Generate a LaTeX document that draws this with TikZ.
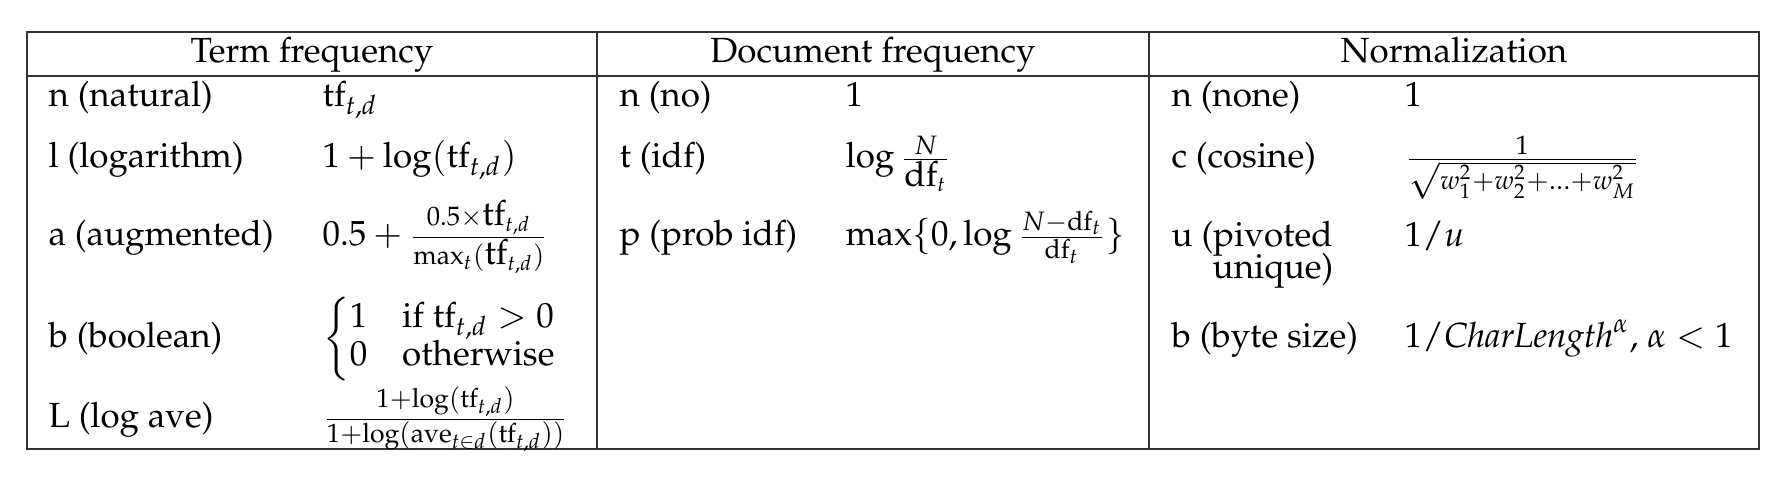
\documentclass[tikz,border=0pt]{standalone}
\usepackage[T1]{fontenc}
\usepackage{mathpazo}
\usepackage{amsmath}
\newcommand{\tfw}{\mathrm{tf}_{t,d}}

\begin{document}
\begin{tikzpicture}[x=0.286pt, y=-0.286pt,
		rule/.style={line width=0.6pt, color=black!80},
		head/.style={anchor=base, inner sep=0pt},
		cell/.style={anchor=base west, inner sep=0pt}]
			%%%%% START %%%%%
			\useasboundingbox (0, 0) rectangle (1788, 482);
			
			\draw[rule] (27, 32) rectangle (1759, 449);
			\draw[rule] (27, 76) -- (1759, 76);
			\draw[rule] (597, 32) -- (597, 449);
			\draw[rule] (1149, 32) -- (1149, 449);
			
			\node[head] (htf) at (312, 63) {Term frequency};
			\node[head] (hdf) at (873, 63) {Document frequency};
			\node[head] (hnorm) at (1454, 63) {Normalization};
			
			%%%%% term frequency %%%%%
			\node[cell] (tfn) at (48, 107) {n (natural)};
			\node[cell] (tfnv) at (322, 107) {$\tfw$};
			\node[cell] (tfl) at (48, 168) {l (logarithm)};
			\node[cell] (tflv) at (322, 168) {$1+\log(\tfw)$};
			\node[cell] (tfa) at (48, 246) {a (augmented)};
			\node[cell] (tfav) at (322, 246) {$0.5+\frac{0.5\times\mbox{tf}_{t,d}}{\max_t(\mbox{tf}_{t,d})}$};
			\node[cell] (tfb) at (48, 348) {b (boolean)};
			\node[cell] (tfbv) at (322, 348) {$\def\arraystretch{0.9}\left\{\begin{array}{@{}l@{\quad}l@{}}1 & \text{if } \tfw>0\\ 0 & \text{otherwise}\end{array}\right.$};
			\node[cell] (tfL) at (48, 428) {L (log ave)};
			\node[cell] (tfLv) at (322, 428) {$\frac{1+\log(\tfw)}{1+\log(\mathrm{ave}_{t\in d}(\tfw))}$};
			
			%%%%% document frequency %%%%%
			\node[cell] (dfn) at (619, 107) {n (no)};
			\node[cell] (dfnv) at (845, 107) {$1$};
			\node[cell] (dft) at (619, 168) {t (idf)};
			\node[cell] (dftv) at (845, 168) {$\log\frac{N}{\mbox{df}_t}$};
			\node[cell] (dfp) at (619, 246) {p (prob idf)};
			\node[cell] (dfpv) at (845, 246) {$\max\{0,\log\frac{N-\mathrm{df}_t}{\mathrm{df}_t}\}$};
			
			%%%%% normalization %%%%%
			\node[cell] (non) at (1171, 107) {n (none)};
			\node[cell] (nonv) at (1404, 107) {$1$};
			\node[cell] (noc) at (1171, 168) {c (cosine)};
			\node[cell] (nocv) at (1404, 168) {$\frac{1}{\sqrt{w_1^2+w_2^2+\ldots+w_M^2}}$};
			\node[cell] (nou) at (1171, 247) {u (pivoted};
			\node[cell] (nouq) at (1212, 279) {unique)};
			\node[cell] (nouv) at (1404, 247) {$1/u$};
			\node[cell] (nob) at (1171, 348) {b (byte size)};
			\node[cell] (nobv) at (1404, 348) {$1/\mathit{CharLength}^{\alpha}$, $\alpha<1$};
			%%%%% END %%%%%
\end{tikzpicture}
\end{document}
